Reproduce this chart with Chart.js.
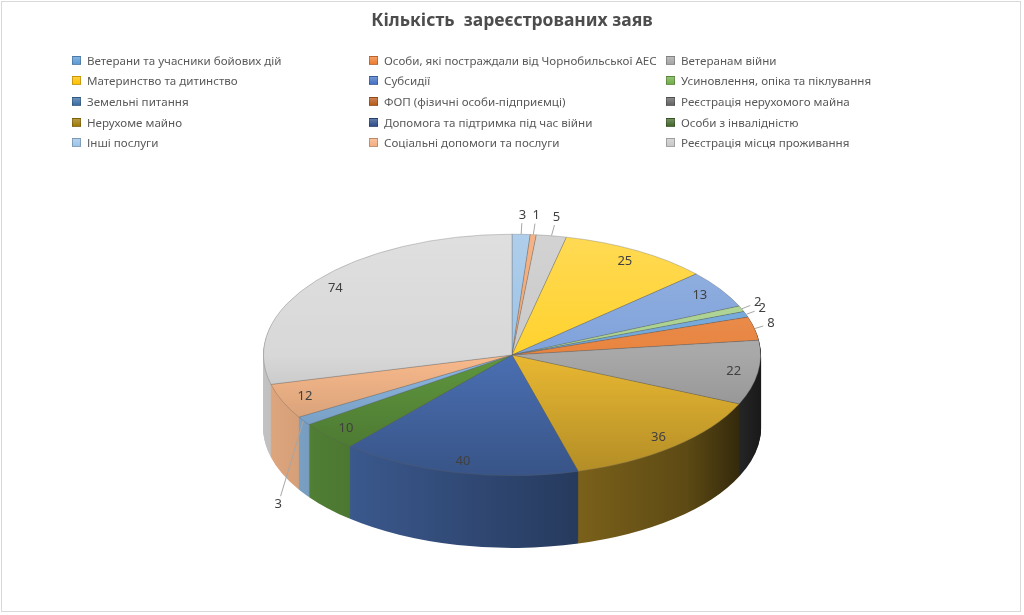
<!DOCTYPE html>
<html><head><meta charset="utf-8">
<script src="https://cdn.jsdelivr.net/npm/chart.js@4"></script>
<style>
html,body{margin:0;padding:0;background:#fff;}
#wrap{position:relative;width:1024px;height:615px;overflow:hidden;background:#fff;}
#frame{position:absolute;left:1px;top:1px;width:1018px;height:609px;border:1px solid #d9d9d9;pointer-events:none;}
#c{position:absolute;left:0;top:0;}
#legend{position:absolute;left:72px;top:50px;display:grid;grid-template-columns:297px 297px 297px;grid-auto-rows:20.6px;font-family:"Noto Sans",sans-serif;font-size:11.6px;color:#595959;}
.li{display:flex;align-items:center;white-space:nowrap;}
.sw{width:9px;height:9px;margin-right:6px;box-sizing:border-box;border:1px solid rgba(0,0,0,0.22);}
</style></head><body>
<div id="wrap"><canvas id="c" width="1024" height="615"></canvas><div id="legend"></div><div id="frame"></div></div>
<script>
const chartTitle = 'Кількість  зареєстрованих заяв';
const categories = [
  'Ветерани та учасники бойових дій',
  'Особи, які постраждали від Чорнобильської АЕС',
  'Ветеранам війни',
  'Материнство та дитинство',
  'Субсидії',
  'Усиновлення, опіка та піклування',
  'Земельні питання',
  'ФОП (фізичні особи-підприємці)',
  'Реєстрація нерухомого майна',
  'Нерухоме майно',
  'Допомога та підтримка під час війни',
  'Особи з інвалідністю',
  'Інші послуги',
  'Соціальні допомоги та послуги',
  'Реєстрація місця проживання'
];
const values = [3, 1, 5, 25, 13, 2, 2, 8, 22, 36, 40, 10, 3, 12, 74];
const legendColors = ['#5B9BD5','#ED7D31','#A5A5A5','#FFC000','#4472C4','#70AD47','#3A6EA5','#B85A1A','#636363','#A07A06','#2E4F8A','#43682B','#9CC4EA','#F4AE80','#C8C8C8'];
const sliceColors  = ['#9DC3E6','#F1A46E','#C9C9C9','#FFD22E','#7FA2DB','#A9D18E','#6FA6DA','#E8843F','#A8A8A8','#E9B832','#4A6FB2','#5F963E','#8DB9E4','#F9BA8C','#D8D8D8'];

// geometry of the 3D look (screen space)
const PIE = {cx: 512, cy: 355, rx: 249, ry: 121, depth: 72};

function hexToRgb(h){h=h.replace('#','');return [parseInt(h.substr(0,2),16),parseInt(h.substr(2,2),16),parseInt(h.substr(4,2),16)];}
function shade(hex,f){const c=hexToRgb(hex);return 'rgb('+c.map(v=>{let n=f>=1?v+(255-v)*(f-1):v*f;return Math.max(0,Math.min(255,Math.round(n)));}).join(',')+')';}

// legend
const lg=document.getElementById('legend');
categories.forEach((name,i)=>{
  const d=document.createElement('div');d.className='li';
  const s=document.createElement('span');s.className='sw';
  s.style.background='linear-gradient(180deg,'+shade(legendColors[i],1.25)+','+legendColors[i]+')';
  const t=document.createElement('span');t.textContent=name;
  d.appendChild(s);d.appendChild(t);lg.appendChild(d);
});

function pieGeom(chart){
  const a=chart.chartArea;const R=Math.min(a.right-a.left,a.bottom-a.top)/2;
  return {x:(a.left+a.right)/2,y:(a.top+a.bottom)/2,R:R};
}
function applyT(ctx,g,dy){
  ctx.translate(PIE.cx,PIE.cy+dy);
  ctx.scale(PIE.rx/g.R,PIE.ry/g.R);
  ctx.translate(-g.x,-g.y);
}

const pie3d={
  id:'pie3d',
  beforeDatasetsDraw(chart){
    const ctx=chart.ctx;const g=pieGeom(chart);
    const arcs=chart.getDatasetMeta(0).data;
    const grads=arcs.map((a,i)=>{
      const gr=ctx.createLinearGradient(g.x-g.R,0,g.x+g.R,0);
      gr.addColorStop(0,shade(sliceColors[i],0.9));
      gr.addColorStop(0.5,shade(sliceColors[i],0.6));
      gr.addColorStop(0.85,shade(sliceColors[i],0.4));
      gr.addColorStop(1,shade(sliceColors[i],0.15));
      return gr;
    });
    for(let d=PIE.depth;d>=1;d--){
      ctx.save();applyT(ctx,g,d);
      arcs.forEach((a,i)=>{
        ctx.beginPath();ctx.moveTo(g.x,g.y);
        ctx.arc(g.x,g.y,g.R,a.startAngle,a.endAngle);
        ctx.closePath();ctx.fillStyle=grads[i];ctx.fill();
      });
      ctx.restore();
    }
    ctx.save();applyT(ctx,g,0);
  },
  afterDatasetsDraw(chart){
    const ctx=chart.ctx;ctx.restore();
    const arcs=chart.getDatasetMeta(0).data;
    ctx.save();
    ctx.font='13px "Noto Sans", sans-serif';ctx.fillStyle='#404040';
    ctx.textAlign='center';ctx.textBaseline='middle';
    ctx.strokeStyle='#a6a6a6';ctx.lineWidth=1;
    arcs.forEach((a,i)=>{
      const m=(a.startAngle+a.endAngle)/2;const c=Math.cos(m),s=Math.sin(m);
      const v=values[i];
      if(v>8){
        const f=0.9;
        ctx.fillText(String(v),PIE.cx+PIE.rx*f*c,PIE.cy+PIE.ry*f*s);
      }else{
        const front=s>0.3;
        const ex=PIE.cx+PIE.rx*c, ey=PIE.cy+PIE.ry*s;
        let lx,ly;
        if(front){
          lx=PIE.cx+PIE.rx*1.12*c; ly=PIE.cy+PIE.ry*1.12*s+PIE.depth+3;
        }else{
          const nx=c*PIE.rx, ny=s*PIE.ry, nl=Math.hypot(nx,ny);
          lx=ex+16*nx/nl; ly=ey+16*ny/nl-3;
        }
        const ux=lx-ex, uy=ly-ey;const L=Math.hypot(ux,uy);
        ctx.beginPath();ctx.moveTo(ex,ey);ctx.lineTo(ex+ux*(L-8)/L,ey+uy*(L-8)/L);ctx.stroke();
        ctx.fillText(String(v),lx,ly);
      }
    });
    ctx.restore();
  }
};

new Chart(document.getElementById('c'),{
  type:'pie',
  data:{labels:categories,datasets:[{
    data:values,
    backgroundColor(ctx){
      const chart=ctx.chart;const i=ctx.dataIndex;
      if(!chart.chartArea)return sliceColors[i];
      const g=pieGeom(chart);
      const gr=chart.ctx.createLinearGradient(0,g.y-g.R,0,g.y+g.R);
      gr.addColorStop(0,shade(sliceColors[i],1.18));
      gr.addColorStop(0.5,sliceColors[i]);
      gr.addColorStop(1,shade(sliceColors[i],0.76));
      return gr;
    },
    borderColor:'rgba(90,90,90,0.45)',borderWidth:0.8
  }]},
  options:{
    responsive:false,animation:false,
    plugins:{
      legend:{display:false},tooltip:{enabled:false},
      title:{display:true,text:chartTitle,color:'#4d4d4d',font:{family:'"Noto Sans", sans-serif',size:17.5,weight:'bold'},padding:{top:11,bottom:150}}
    }
  },
  plugins:[pie3d]
});
</script>
</body></html>
